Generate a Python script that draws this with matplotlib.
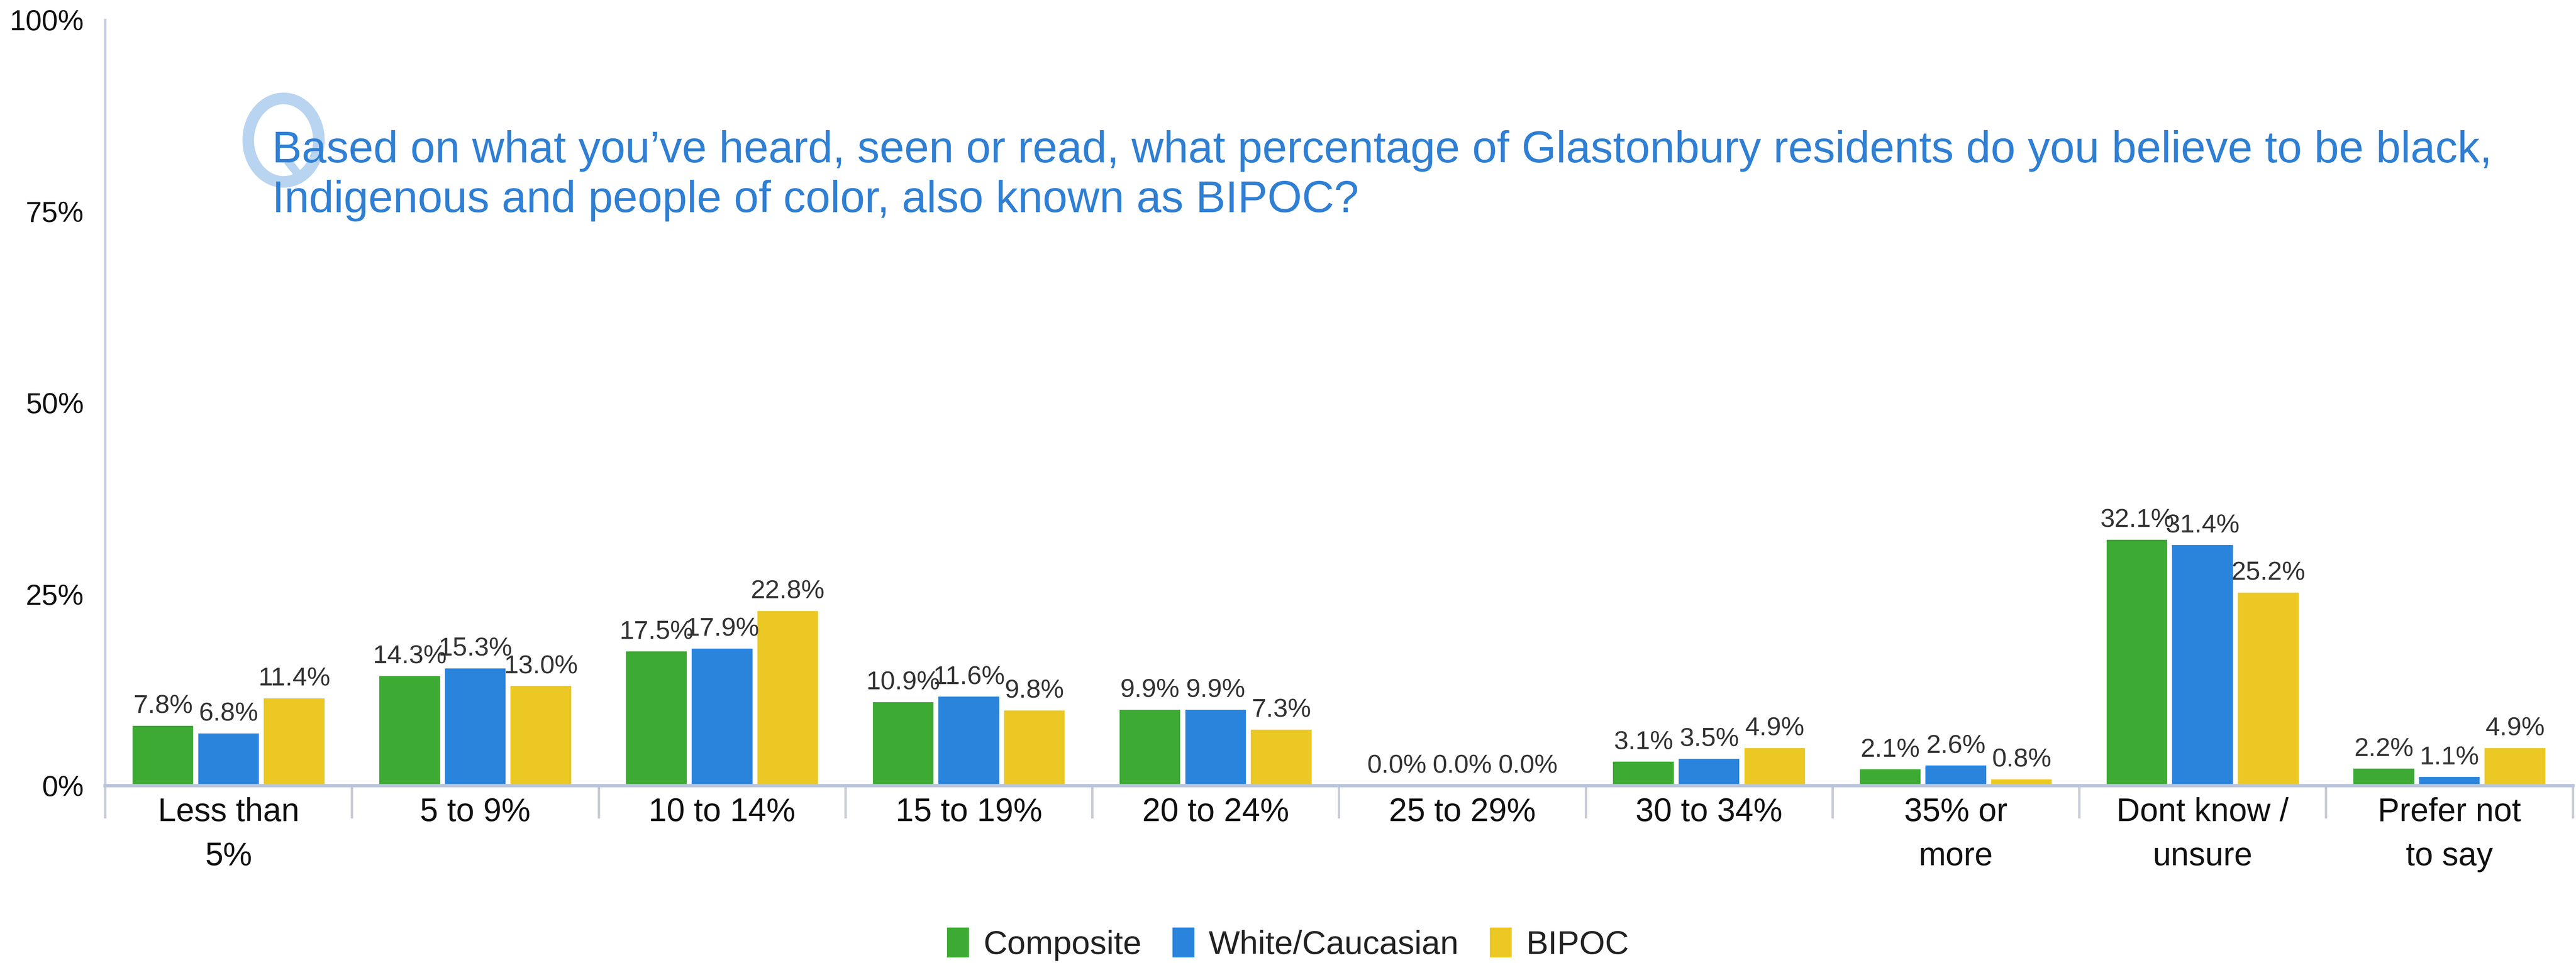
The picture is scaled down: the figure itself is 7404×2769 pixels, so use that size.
import matplotlib
matplotlib.use("Agg")
import matplotlib.pyplot as plt
from matplotlib.patches import Ellipse, Patch
from matplotlib.lines import Line2D
import numpy as np

plt.rcParams['font.family'] = ['Liberation Sans', 'DejaVu Sans']

categories = ["Less than\n5%", "5 to 9%", "10 to 14%", "15 to 19%", "20 to 24%",
              "25 to 29%", "30 to 34%", "35% or\nmore", "Dont know /\nunsure",
              "Prefer not\nto say"]
series_names = ["Composite", "White/Caucasian", "BIPOC"]
composite = [7.8, 14.3, 17.5, 10.9, 9.9, 0.0, 3.1, 2.1, 32.1, 2.2]
white = [6.8, 15.3, 17.9, 11.6, 9.9, 0.0, 3.5, 2.6, 31.4, 1.1]
bipoc = [11.4, 13.0, 22.8, 9.8, 7.3, 0.0, 4.9, 0.8, 25.2, 4.9]
y_ticks = [0, 25, 50, 75, 100]
y_tick_labels = ["0%", "25%", "50%", "75%", "100%"]
title_lines = ["Based on what you\u2019ve heard, seen or read, what percentage of Glastonbury residents do you believe to be black,",
               "Indigenous and people of color, also known as BIPOC?"]

colors = ["#3caa33", "#2a84dc", "#ebc823"]
values = [composite, white, bipoc]

W, H = 7404, 2769
fig = plt.figure(figsize=(W / 100, H / 100), dpi=100)
fig.patch.set_facecolor("white")

# plot area (fractions of the figure)
left, right = 64 / 1568, 1566 / 1568
bottom, top = 1 - 478 / 586, 1 - 12 / 586
ax = fig.add_axes([left, bottom, right - left, top - bottom])

x = np.arange(len(categories))
pitch, bw = 0.266, 0.246
for i, (vals, col) in enumerate(zip(values, colors)):
    xs = x + (i - 1) * pitch
    ax.bar(xs, vals, width=bw, color=col, edgecolor="none", zorder=2)
    for xv, v in zip(xs, vals):
        ax.annotate(f"{v:.1f}%", (xv, v), xytext=(0, 16), textcoords="offset points",
                    ha="center", va="bottom", fontsize=54, color="#333333", zorder=3)

ax.set_xlim(-0.5, len(categories) - 0.5)
ax.set_ylim(0, 100)

for s in ["top", "right"]:
    ax.spines[s].set_visible(False)
ax.spines["left"].set_color("#c5cde0")
ax.spines["left"].set_linewidth(5)
ax.spines["bottom"].set_color("#b8c5dd")
ax.spines["bottom"].set_linewidth(7)

ax.set_yticks(y_ticks)
ax.set_yticklabels(y_tick_labels)
ax.tick_params(axis="y", length=0, pad=44, labelsize=60, labelcolor="#111111")

ax.set_xticks(x)
ax.set_xticklabels(categories)
ax.tick_params(axis="x", which="major", length=0, pad=24, labelsize=67.5, labelcolor="#111111")
for lab in ax.get_xticklabels():
    lab.set_linespacing(1.55)
ax.set_xticks(np.arange(-0.5, len(categories) + 0.5, 1.0), minor=True)
ax.tick_params(axis="x", which="minor", length=68, width=5, color="#c9ccd4")

# question heading with its "Q" badge
badge = "#b9d4f0"
ring = Ellipse((815 / W, 1 - 403 / H), 203 / W, 240 / H, transform=fig.transFigure,
               fill=False, edgecolor=badge, linewidth=24, zorder=1)
fig.add_artist(ring)
fig.add_artist(Line2D([826 / W, 860 / W], [1 - 462 / H, 1 - 505 / H],
                      transform=fig.transFigure, color=badge, linewidth=17,
                      solid_capstyle="butt", zorder=1))
fig.text(782 / W, 1 - 467 / H, title_lines[0], fontsize=92, color="#2f7fd3",
         ha="left", va="baseline", zorder=5)
fig.text(782 / W, 1 - 610 / H, title_lines[1], fontsize=92, color="#2f7fd3",
         ha="left", va="baseline", zorder=5)

handles = [Patch(facecolor=c, edgecolor="none") for c in colors]
fig.legend(handles, series_names, loc="center", bbox_to_anchor=(0.5, 0.0195), ncol=3,
           frameon=False, fontsize=68.5, handlelength=0.66, handleheight=1.0,
           handletextpad=0.43, columnspacing=0.94, labelcolor="#222222",
           borderpad=0, borderaxespad=0)

fig.savefig("out.png", dpi=100, facecolor="white")
